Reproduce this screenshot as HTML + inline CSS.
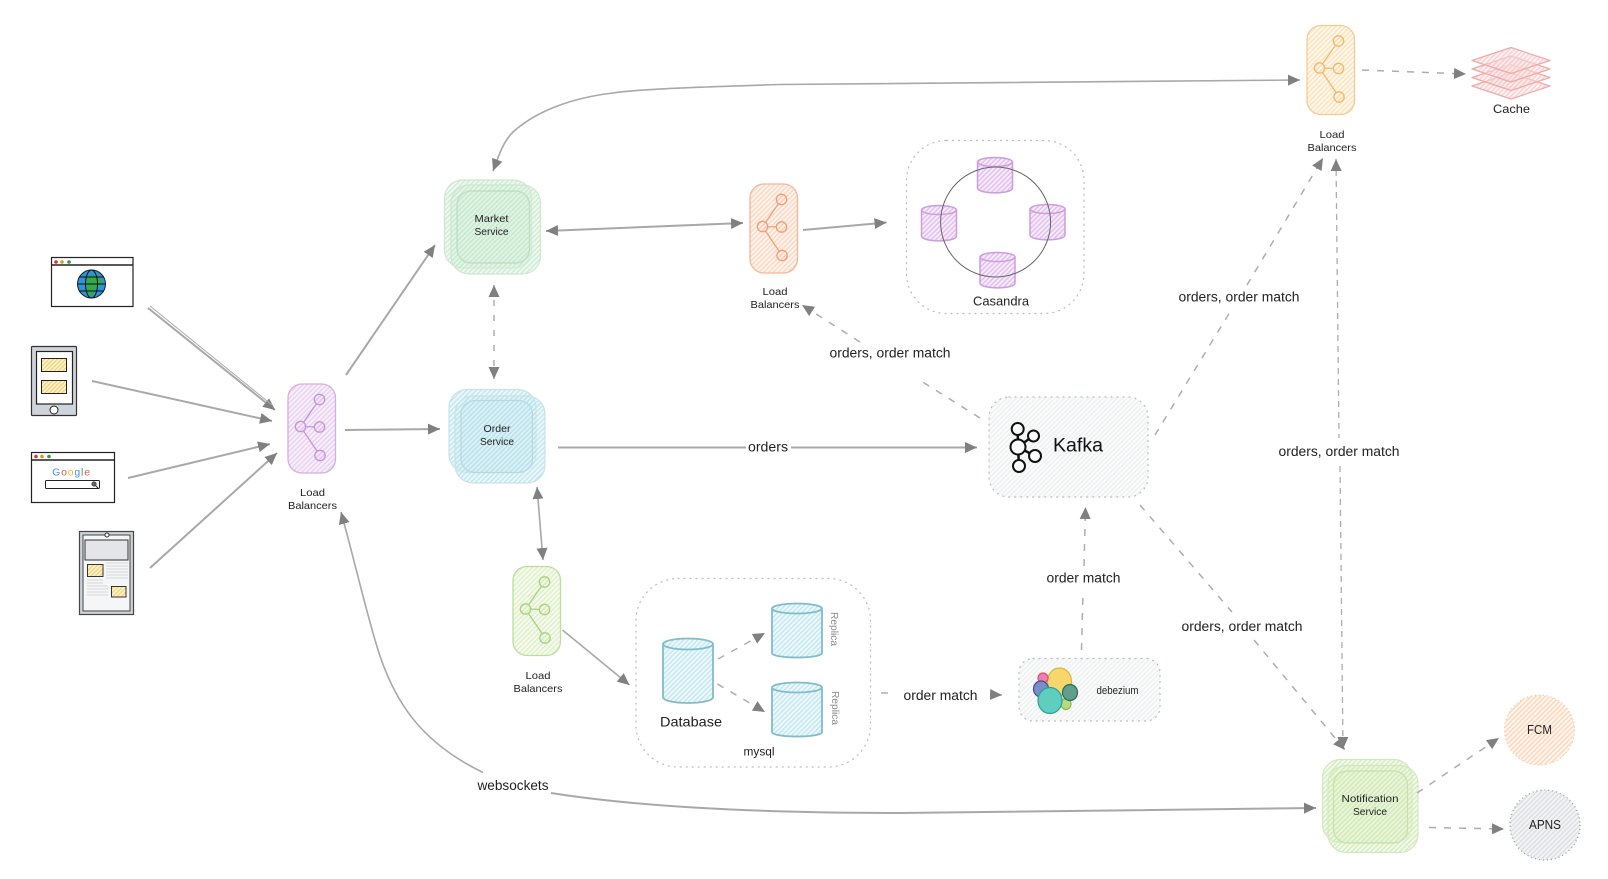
<!DOCTYPE html>
<html><head><meta charset="utf-8"><title>System diagram</title>
<style>
html,body{margin:0;padding:0;background:#fff}
svg{display:block}
text{font-family:"Liberation Sans",sans-serif;fill:#222;text-anchor:middle;dominant-baseline:central}
.s{fill:none;stroke:#a8a8a8;stroke-width:2;marker-end:url(#ah)}
.d{fill:none;stroke:#adadad;stroke-width:1.5;stroke-dasharray:7 8}
.dot{stroke:#bbb;stroke-width:1.2;stroke-dasharray:1 5;stroke-linecap:round}
.lb{font-size:10.5px}
.el{font-size:13.5px}
</style></head><body>
<svg width="1608" height="879" viewBox="0 0 1608 879" xmlns="http://www.w3.org/2000/svg">
<defs>
<marker id="ah" markerUnits="userSpaceOnUse" markerWidth="14" markerHeight="12" refX="12" refY="6" orient="auto-start-reverse"><path d="M0,0.5 L12,6 L0,11.5 Z" fill="#808080"/></marker>
<pattern id="hp" width="3.4" height="3.4" patternUnits="userSpaceOnUse" patternTransform="rotate(45)"><rect width="3.4" height="3.4" fill="#f6ecfa"/><rect width="1.5" height="3.4" fill="#e2c4ec"/></pattern>
<pattern id="hg" width="3.4" height="3.4" patternUnits="userSpaceOnUse" patternTransform="rotate(45)"><rect width="3.4" height="3.4" fill="#dcf2e1" opacity=".45"/><rect width="1.5" height="3.4" fill="#c5e8cc" opacity=".75"/></pattern>
<pattern id="hb" width="3.4" height="3.4" patternUnits="userSpaceOnUse" patternTransform="rotate(45)"><rect width="3.4" height="3.4" fill="#d8f0f5" opacity=".45"/><rect width="1.5" height="3.4" fill="#b5e0ea" opacity=".75"/></pattern>
<pattern id="hl" width="3.4" height="3.4" patternUnits="userSpaceOnUse" patternTransform="rotate(45)"><rect width="3.4" height="3.4" fill="#e6f4d6" opacity=".45"/><rect width="1.5" height="3.4" fill="#cfe8b5" opacity=".8"/></pattern>
<pattern id="ho" width="3.4" height="3.4" patternUnits="userSpaceOnUse" patternTransform="rotate(45)"><rect width="3.4" height="3.4" fill="#fef1e9"/><rect width="1.5" height="3.4" fill="#f9cdb2"/></pattern>
<pattern id="hy" width="3.4" height="3.4" patternUnits="userSpaceOnUse" patternTransform="rotate(45)"><rect width="3.4" height="3.4" fill="#fff6e8"/><rect width="1.5" height="3.4" fill="#fbdca9"/></pattern>
<pattern id="hG" width="3.4" height="3.4" patternUnits="userSpaceOnUse" patternTransform="rotate(45)"><rect width="3.4" height="3.4" fill="#f4faec"/><rect width="1.5" height="3.4" fill="#d5ebb9"/></pattern>
<pattern id="hc" width="3.4" height="3.4" patternUnits="userSpaceOnUse" patternTransform="rotate(45)"><rect width="3.4" height="3.4" fill="#eff9fb"/><rect width="1.5" height="3.4" fill="#c4e7f0"/></pattern>
<pattern id="hm" width="3.4" height="3.4" patternUnits="userSpaceOnUse" patternTransform="rotate(45)"><rect width="3.4" height="3.4" fill="#f6ecfa"/><rect width="1.5" height="3.4" fill="#e2c0ee"/></pattern>
<pattern id="hk" width="3.4" height="3.4" patternUnits="userSpaceOnUse" patternTransform="rotate(45)"><rect width="3.4" height="3.4" fill="#fafbfb"/><rect width="1.2" height="3.4" fill="#eceff0"/></pattern>
<pattern id="hr" width="3.4" height="3.4" patternUnits="userSpaceOnUse" patternTransform="rotate(45)"><rect width="3.4" height="3.4" fill="#fbe3e3" opacity=".45"/><rect width="1.4" height="3.4" fill="#f7c6c6" opacity=".75"/></pattern>
<pattern id="hf" width="3.4" height="3.4" patternUnits="userSpaceOnUse" patternTransform="rotate(45)"><rect width="3.4" height="3.4" fill="#fff6ef"/><rect width="1.5" height="3.4" fill="#fcd9bd"/></pattern>
<pattern id="ha" width="3.4" height="3.4" patternUnits="userSpaceOnUse" patternTransform="rotate(45)"><rect width="3.4" height="3.4" fill="#f3f4f6"/><rect width="1.5" height="3.4" fill="#dcdfe3"/></pattern>
<pattern id="hn" width="3" height="3" patternUnits="userSpaceOnUse" patternTransform="rotate(45)"><rect width="3" height="3" fill="#fdf3d0"/><rect width="1.2" height="3" fill="#f5cf70"/></pattern>
<g id="lbs" stroke-width="1.3">
<rect width="47.5" height="89" rx="14" opacity=".75"/>
<path d="M12.5,42.5 L31.5,15.5 M12.5,42.5 L31.5,43 M12.5,42.5 L32,71.5" fill="none"/>
<circle cx="31.5" cy="15.5" r="5.2"/><circle cx="12.5" cy="42.5" r="5.2"/><circle cx="31.5" cy="43" r="5.2"/><circle cx="32" cy="71.5" r="5.2"/>
</g>
<g id="cyl" stroke-width="1.5">
<path d="M0,5 V31 C0,37.5 35,37.5 35,31 V5"/>
<ellipse cx="17.5" cy="5" rx="17.5" ry="4.5"/>
</g>
<g id="cy2" stroke-width="1.8">
<path d="M0,5.5 V50 C0,56 50,56 50,50 V5.5"/>
<ellipse cx="25" cy="5.5" rx="25" ry="5"/>
</g>
</defs>
<rect width="1608" height="879" fill="#fff"/>

<!-- browser -->
<rect x="51.5" y="257.5" width="81.5" height="49" fill="#fff" stroke="#222" stroke-width="1.2"/>
<line x1="52" y1="265" x2="133" y2="265" stroke="#222" stroke-width="1.6"/>
<circle cx="56" cy="262" r="1.8" fill="#d33"/><circle cx="62" cy="262" r="1.8" fill="#d89a1c"/><circle cx="69" cy="262" r="1.8" fill="#3a9a3a"/>
<circle cx="91.5" cy="284" r="14" fill="#2e93d9" stroke="#222"/>
<path d="M86,276 L98,275 L103,284 L96,288 L92,297 L85,291 L87,284Z" fill="#35a84a"/>
<path d="M77,284H106M79,277H104M79,291H104" stroke="#111" stroke-width="1" fill="none"/><ellipse cx="91.5" cy="284" rx="6" ry="14" fill="none" stroke="#111"/>

<!-- phone -->
<rect x="31.5" y="346.5" width="45" height="69" rx="1" fill="#ced4da" stroke="#333" stroke-width="1.2"/>
<rect x="36.5" y="351.5" width="36" height="52.5" fill="#fff" stroke="#222" stroke-width="1.2"/>
<rect x="41.5" y="358.5" width="25" height="13" fill="url(#hn)" stroke="#222"/>
<rect x="41.5" y="380.5" width="25" height="13" fill="url(#hn)" stroke="#222"/>
<circle cx="54" cy="410" r="4" fill="#fff" stroke="#222"/>

<!-- google -->
<rect x="31.5" y="452.5" width="83" height="50" fill="#fff" stroke="#222" stroke-width="1.2"/>
<line x1="32" y1="460" x2="114" y2="460" stroke="#222" stroke-width="1.5"/>
<circle cx="36" cy="456.5" r="1.8" fill="#d33"/><circle cx="42" cy="456.5" r="1.8" fill="#d89a1c"/><circle cx="49" cy="456.5" r="1.8" fill="#3a9a3a"/>
<text x="71.5" y="472.5" style="font-size:10.5px;letter-spacing:.8px"><tspan style="fill:#4a90e2">G</tspan><tspan style="fill:#e2574c">o</tspan><tspan style="fill:#f0b429">o</tspan><tspan style="fill:#4a90e2">g</tspan><tspan style="fill:#3aa655">l</tspan><tspan style="fill:#e2574c">e</tspan></text>
<rect x="45.5" y="480.5" width="54" height="8" rx="1" fill="#fff" stroke="#222"/>
<circle cx="94" cy="484" r="2.2" fill="#666" stroke="#222" stroke-width=".6"/><line x1="95.5" y1="485.5" x2="98" y2="488" stroke="#222"/>

<!-- tablet -->
<rect x="79.5" y="531.5" width="54" height="83" fill="#ced4da" stroke="#444" stroke-width="1.2"/>
<rect x="83" y="535" width="47" height="76" fill="#f5f6f7" stroke="#444"/>
<circle cx="107" cy="535" r="2" fill="#fff" stroke="#333"/>
<rect x="85" y="540" width="43" height="20" fill="#e3e5e8" stroke="#333"/>
<rect x="87.5" y="564.5" width="15.5" height="12" fill="url(#hn)" stroke="#333"/>
<rect x="111.5" y="586.5" width="14.5" height="10.5" fill="url(#hn)" stroke="#333"/>
<path d="M106,563H128M106,566H128M106,569H128M106,572H128M106,575H128M106,578H128M87,580H103M87,583H103M87,586H108M87,589H108M87,592H108M87,595H108" stroke="#b5b5b5" stroke-width=".6" fill="none"/>

<!-- client arrows -->
<path class="s" d="M148,308 L275,410"/><path d="M150,306 L272,405" stroke="#aaa" stroke-width="1" fill="none"/>
<path class="s" d="M92,381 L272,421"/>
<path class="s" d="M128,478 L270,444"/>
<path class="s" d="M150,568 L277,453"/>
<path class="s" d="M346,375 L435,245"/>
<path class="s" d="M345,430 L440,429"/>

<!-- LBs -->
<use href="#lbs" x="288" y="384" fill="url(#hp)" stroke="#c893dc"/>
<text class="lb" x="312.5" y="493" textLength="25" lengthAdjust="spacingAndGlyphs">Load</text>
<text class="lb" x="312.5" y="506" textLength="49" lengthAdjust="spacingAndGlyphs">Balancers</text>
<use href="#lbs" x="750" y="184" fill="url(#ho)" stroke="#ee9f78"/>
<text class="lb" x="775" y="292" textLength="25" lengthAdjust="spacingAndGlyphs">Load</text>
<text class="lb" x="775" y="305" textLength="49" lengthAdjust="spacingAndGlyphs">Balancers</text>
<use href="#lbs" x="1307" y="25.5" fill="url(#hy)" stroke="#f4b870"/>
<text class="lb" x="1332" y="135" textLength="25" lengthAdjust="spacingAndGlyphs">Load</text>
<text class="lb" x="1332" y="148" textLength="49" lengthAdjust="spacingAndGlyphs">Balancers</text>
<use href="#lbs" x="513" y="566.5" fill="url(#hG)" stroke="#a8d27d"/>
<text class="lb" x="538" y="676" textLength="25" lengthAdjust="spacingAndGlyphs">Load</text>
<text class="lb" x="538" y="689" textLength="49" lengthAdjust="spacingAndGlyphs">Balancers</text>

<!-- Market -->
<g fill="url(#hg)" stroke="#cde7d2" stroke-width="1.2">
<rect x="444.5" y="180" width="87" height="88" rx="18"/>
<rect x="451" y="185" width="89.5" height="89" rx="18"/>
<rect x="457" y="191" width="72.5" height="72" rx="14" stroke="#bcdcc3"/>
</g>
<text class="lb" x="491.5" y="219" textLength="34" lengthAdjust="spacingAndGlyphs">Market</text>
<text class="lb" x="491.5" y="232" textLength="34" lengthAdjust="spacingAndGlyphs">Service</text>

<!-- Order -->
<g fill="url(#hb)" stroke="#c7e3e9" stroke-width="1.2">
<rect x="449" y="389.5" width="87" height="83" rx="18"/>
<rect x="455" y="396" width="90" height="87" rx="18"/>
<rect x="461" y="400.5" width="71.5" height="72" rx="14" stroke="#b6d9e1"/>
</g>
<text class="lb" x="497" y="429" textLength="27" lengthAdjust="spacingAndGlyphs">Order</text>
<text class="lb" x="497" y="442" textLength="34" lengthAdjust="spacingAndGlyphs">Service</text>

<!-- Notification -->
<g fill="url(#hl)" stroke="#d3e8be" stroke-width="1.2">
<rect x="1322.5" y="759.5" width="89.5" height="83" rx="18"/>
<rect x="1328" y="765.5" width="90" height="87" rx="18"/>
<rect x="1333.5" y="771" width="74" height="72" rx="14" stroke="#c6e0ae"/>
</g>
<text class="lb" x="1370" y="799" textLength="57" lengthAdjust="spacingAndGlyphs">Notification</text>
<text class="lb" x="1370" y="812" textLength="34" lengthAdjust="spacingAndGlyphs">Service</text>

<!-- connectors main -->
<path class="s" style="stroke-width:1.6;marker-start:url(#ah)" d="M1300,80 L780,84.5 C700,87 640,89 613,93 C570,98 535,112 513,132 C503,142 499,155 493,171"/>
<path class="s" style="marker-start:url(#ah)" d="M546,231 L743,223"/>
<path class="s" d="M803,230 L886.5,222.5"/>
<path d="M558,447.5 H746" stroke="#a8a8a8" stroke-width="2" fill="none"/>
<path class="s" d="M791,447.5 H977"/>
<text class="el" x="768" y="447" textLength="40" lengthAdjust="spacingAndGlyphs">orders</text>
<path class="d" style="marker-start:url(#ah);marker-end:url(#ah);stroke-dasharray:6 9" d="M494,285 V379"/>
<path class="s" style="marker-start:url(#ah);stroke-width:1.6" d="M537,487 L543,560"/>
<path class="s" style="stroke-width:1.6" d="M562.5,630 L629.5,685"/>

<!-- Casandra -->
<rect x="906.5" y="140.5" width="177.5" height="173" rx="40" fill="none" class="dot"/>
<g fill="url(#hm)" stroke="#cf9ae0">
<use href="#cyl" x="977.5" y="157"/><use href="#cyl" x="921.5" y="205"/><use href="#cyl" x="1030" y="204"/><use href="#cyl" x="980" y="252"/>
</g>
<circle cx="995.6" cy="222" r="55" fill="none" stroke="#666" stroke-width="1"/>
<text class="el" x="1001" y="301.5" textLength="56" lengthAdjust="spacingAndGlyphs" style="font-size:12.5px">Casandra</text>

<!-- Kafka -->
<rect x="989" y="397" width="159" height="100" rx="20" fill="url(#hk)" class="dot"/>
<g fill="#fff" stroke="#111" stroke-width="2">
<path d="M1018,447 L1017.7,429 M1018,447 L1033,436 M1018,447 L1035,456 M1018,447 L1019,466" stroke-width="2.5"/>
<circle cx="1018" cy="447" r="7.5"/><circle cx="1017.7" cy="429" r="6"/><circle cx="1033.5" cy="436" r="5.5"/><circle cx="1035" cy="456" r="6"/><circle cx="1019" cy="466" r="6"/>
</g>
<text x="1078" y="446" textLength="50" lengthAdjust="spacingAndGlyphs" style="font-size:19px;fill:#111">Kafka</text>

<!-- Kafka -> LB2 -->
<path class="d" d="M980,418 L921,381"/>
<path class="d" style="marker-end:url(#ah)" d="M860,342 L802,305"/>
<text class="el" x="890" y="353" textLength="121" lengthAdjust="spacingAndGlyphs">orders, order match</text>
<!-- Kafka -> LB3 -->
<path class="d" d="M1155,435 L1230,312"/>
<path class="d" style="marker-end:url(#ah)" d="M1247,285 L1323,158"/>
<text class="el" x="1239" y="297" textLength="121" lengthAdjust="spacingAndGlyphs">orders, order match</text>
<!-- LB3 <-> Notification -->
<path class="d" style="marker-start:url(#ah);stroke-dasharray:6 5;stroke-width:1.3" d="M1336,159 L1339,438"/>
<path class="d" style="marker-end:url(#ah);stroke-dasharray:6 5;stroke-width:1.3" d="M1340,466 L1343,749"/>
<text class="el" x="1339" y="451.5" textLength="121" lengthAdjust="spacingAndGlyphs">orders, order match</text>
<!-- Kafka -> Notification -->
<path class="d" d="M1140,505 L1232,612"/>
<path class="d" style="marker-end:url(#ah)" d="M1254,640 L1345,750"/>
<text class="el" x="1242" y="626.5" textLength="121" lengthAdjust="spacingAndGlyphs">orders, order match</text>

<!-- LB3 -> Cache -->
<path class="d" style="marker-end:url(#ah)" d="M1362,70 L1466,74"/>
<g fill="url(#hr)" stroke="#eeaaaa" stroke-width="1.2" stroke-linejoin="round">
<path d="M1472,86 L1511,73 L1550,86 L1511,99Z"/>
<path d="M1472,77.5 L1511,64.5 L1550,77.5 L1511,90.5Z"/>
<path d="M1472,69 L1511,56 L1550,69 L1511,82Z"/>
<path d="M1472,60.5 L1511,47.5 L1550,60.5 L1511,73.5Z"/>
</g>
<text class="lb" x="1511.5" y="109" textLength="37" lengthAdjust="spacingAndGlyphs" style="font-size:12px">Cache</text>

<!-- mysql -->
<rect x="636" y="578.5" width="234.5" height="188.5" rx="42" fill="none" class="dot"/>
<g fill="url(#hc)" stroke="#82bccb">
<use href="#cy2" x="772" y="603"/><use href="#cy2" x="772" y="682"/>
<path d="M663,644 V697 C663,705 713,705 713,697 V644" stroke-width="1.8"/><ellipse cx="688" cy="644" rx="25" ry="5.5" stroke-width="1.8"/>
</g>
<text x="691" y="721.5" textLength="62" lengthAdjust="spacingAndGlyphs" style="font-size:14px">Database</text>
<text x="759" y="751.5" textLength="31" lengthAdjust="spacingAndGlyphs" style="font-size:12px">mysql</text>
<text transform="translate(834,629) rotate(90)" textLength="34" lengthAdjust="spacingAndGlyphs" style="font-size:10.5px;fill:#8a8a8a">Replica</text>
<text transform="translate(835,708) rotate(90)" textLength="34" lengthAdjust="spacingAndGlyphs" style="font-size:10.5px;fill:#8a8a8a">Replica</text>
<path class="d" style="marker-end:url(#ah)" d="M718,659 L765,633"/>
<path class="d" style="marker-end:url(#ah)" d="M717.5,684 L765,712"/>

<!-- mysql -> debezium -->
<path class="d" d="M881,693 L895,693"/>
<path class="d" style="marker-end:url(#ah);stroke-dasharray:4 6" d="M990,694.5 L1002,695"/>
<text class="el" x="940.5" y="695.5" textLength="74" lengthAdjust="spacingAndGlyphs">order match</text>
<rect x="1019" y="658.5" width="141" height="62.5" rx="14" fill="url(#hk)" class="dot"/>
<g stroke-width="1.2">
<ellipse cx="1059.5" cy="681.5" rx="12" ry="13.5" fill="#f5d76e" stroke="#d9b640"/>
<ellipse cx="1043" cy="678" rx="5" ry="5" fill="#ef7fa8" stroke="#d2557f"/>
<ellipse cx="1041" cy="689" rx="7.5" ry="8" fill="#7b8cc9" stroke="#3f4f97"/>
<ellipse cx="1066" cy="704" rx="5" ry="5.5" fill="#b7dc7b" stroke="#8ab84f"/>
<ellipse cx="1050" cy="700.5" rx="12" ry="13" fill="#5fcdbf" stroke="#2f9f94"/>
<ellipse cx="1070" cy="692.5" rx="7.5" ry="8" fill="#5f9f8c" stroke="#2b6b58"/>
</g>
<text class="lb" x="1117.5" y="691" textLength="42" lengthAdjust="spacingAndGlyphs" style="font-size:11px">debezium</text>
<!-- debezium -> kafka -->
<path class="d" d="M1081.5,650 L1083,590"/>
<path class="d" style="marker-end:url(#ah)" d="M1084,566 L1085.5,507"/>
<text class="el" x="1083.5" y="578" textLength="74" lengthAdjust="spacingAndGlyphs">order match</text>

<!-- websockets -->
<path class="s" style="stroke-width:1.6" d="M483,772.5 C420,742 392,700 375,640 C362,595 353,555 341,512"/>
<path class="s" d="M551,793 C640,807 760,813 900,813 L1316,808"/>
<text class="el" x="513" y="785.5" textLength="71" lengthAdjust="spacingAndGlyphs">websockets</text>

<!-- Notification -> -->
<path class="d" style="marker-end:url(#ah)" d="M1417,793 L1499,738"/>
<path class="d" style="marker-end:url(#ah)" d="M1429,827.5 L1504,829"/>
<circle cx="1539.5" cy="730" r="35" fill="url(#hf)" stroke="#f5c8a8" stroke-width="1.3" stroke-dasharray="1 3"/>
<text x="1539.5" y="730" textLength="25" lengthAdjust="spacingAndGlyphs" style="font-size:12.5px">FCM</text>
<circle cx="1545" cy="825" r="35" fill="url(#ha)" stroke="#9a9a9a" stroke-width="1.3" stroke-dasharray="1 3"/>
<text x="1545" y="825" textLength="32" lengthAdjust="spacingAndGlyphs" style="font-size:12.5px">APNS</text>
</svg>
</body></html>
